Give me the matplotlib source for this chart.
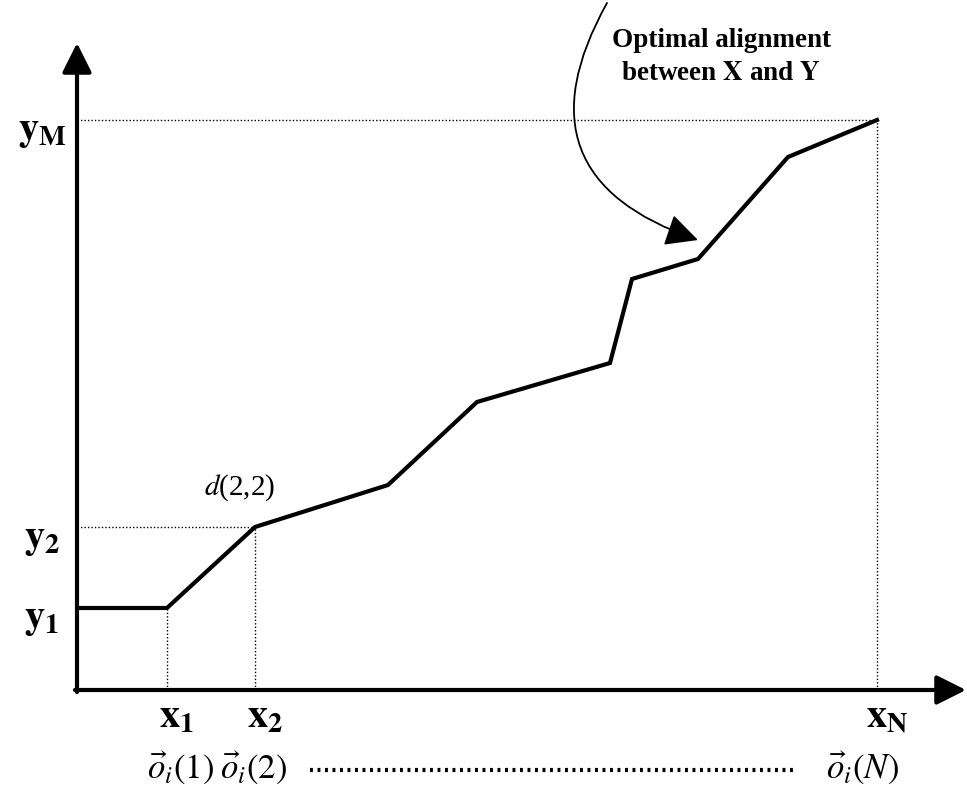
#!/usr/bin/env python3

'''Sketch of the DTW optimal alignment path between X and Y.'''

import matplotlib
matplotlib.use('Agg')
import matplotlib.pyplot as plt


# warping path (x index -> y index), in axis units
PATH_X = [1, 90, 178, 311, 400, 533, 555, 621, 711, 800]
PATH_Y = [82, 82, 163, 205, 288, 327, 411, 431, 533, 570]

X_TICKS = [90, 178, 800]
X_LABELS = [r'$\mathbf{x}_{\mathbf{1}}$', r'$\mathbf{x}_{\mathbf{2}}$',
            r'$\mathbf{x}_{\mathbf{N}}$']
Y_TICKS = [82, 163, 570]
Y_LABELS = [r'$\mathbf{y}_{\mathbf{1}}$', r'$\mathbf{y}_{\mathbf{2}}$',
            r'$\mathbf{y}_{\mathbf{M}}$']
OBS_LABELS = [r'$\vec{o}_i\left(1\right)$', r'$\vec{o}_i\left(2\right)$',
              r'$\vec{o}_i\left(N\right)$']

CALLOUT = 'Optimal alignment\nbetween $\\mathbf{X}$ and $\\mathbf{Y}$'
COST_LABEL = r'$d$(2,2)'

AXIS_LW = 3
GUIDE_LW = 1


def draw_axes(axis):
    '''Draw the two arrowed axes.'''
    props = dict(arrowstyle='-|>,head_length=0.9,head_width=0.45',
                 lw=AXIS_LW, color='black', mutation_scale=20,
                 shrinkA=0, shrinkB=0)
    axis.annotate('', xy=(0, 647), xytext=(0, -2), arrowprops=props)
    axis.annotate('', xy=(889, 0), xytext=(-2, 0), arrowprops=props)


def draw_guides(axis):
    '''Dotted lines from the path corners to the axes.'''
    style = dict(color='black', lw=GUIDE_LW, ls=(0, (1, 1.5)))
    axis.plot([0, X_TICKS[1]], [Y_TICKS[1], Y_TICKS[1]], **style)
    axis.plot([0, X_TICKS[2]], [Y_TICKS[2], Y_TICKS[2]], **style)
    axis.plot([X_TICKS[0], X_TICKS[0]], [0, Y_TICKS[0]], **style)
    axis.plot([X_TICKS[1], X_TICKS[1]], [0, Y_TICKS[1]], **style)
    axis.plot([X_TICKS[2], X_TICKS[2]], [0, Y_TICKS[2]], **style)


def draw_labels(axis):
    '''Tick-like labels on both axes and the observation row.'''
    for val, lab in zip(Y_TICKS, Y_LABELS):
        axis.text(-35, val - 12, lab, fontsize=29, ha='center', va='center')
    for val, lab in zip(X_TICKS, X_LABELS):
        axis.text(val + 10, -28, lab, fontsize=29, ha='center', va='center')
    obs_x = [X_TICKS[0] + 14, X_TICKS[1] - 1, X_TICKS[2] - 15]
    for val, lab in zip(obs_x, OBS_LABELS):
        axis.text(val, -78, lab, fontsize=25, ha='center', va='center')
    axis.plot([233, 716], [-80, -80], color='black', lw=3,
              ls=(0, (0.7, 1.1)))


def plot_graph():
    '''Build the figure and save it.'''
    plt.rcParams['font.family'] = 'Liberation Serif'
    plt.rcParams['mathtext.fontset'] = 'stix'

    fig = plt.figure(figsize=(9.67, 7.95), dpi=100)
    axis = fig.add_axes([0, 0, 1, 1])
    axis.set_xlim(-77, 890)
    axis.set_ylim(-105, 690)
    axis.axis('off')

    draw_guides(axis)
    draw_axes(axis)
    axis.plot(PATH_X, PATH_Y, color='black', lw=AXIS_LW,
              solid_joinstyle='miter')
    draw_labels(axis)

    axis.text(163, 202, COST_LABEL, fontsize=21, ha='center', va='center')
    axis.text(644, 633, CALLOUT, fontsize=19.5, fontweight='bold',
              ha='center', va='center', linespacing=1.45)
    axis.annotate('', xy=(621, 450), xytext=(530, 687),
                  arrowprops=dict(arrowstyle='-|>,head_length=0.5,head_width=0.25',
                                  lw=1.3, color='black',
                                  mutation_scale=40, shrinkA=0, shrinkB=0,
                                  connectionstyle='arc3,rad=0.6'))

    fig.savefig('out.png', dpi=100, facecolor='white')


if __name__ == '__main__':
    plot_graph()
